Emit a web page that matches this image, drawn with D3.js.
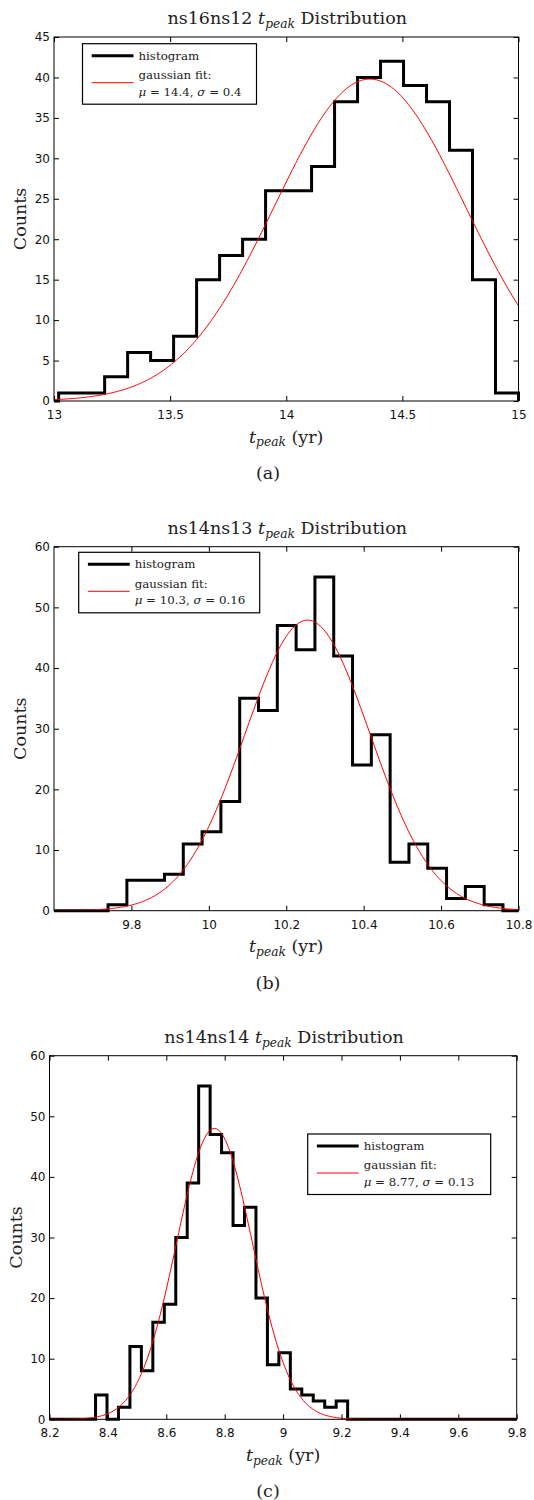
<!DOCTYPE html>
<html><head><meta charset="utf-8">
<script src="https://cdn.jsdelivr.net/npm/d3@7"></script>
<style>body{margin:0;background:#fff} svg{display:block}</style>
</head><body>
<svg id="chart" width="534" height="1500"></svg>
<script>
// ---------------- DATA ----------------
const runNames = ["ns16ns12", "ns14ns13", "ns14ns14"];
const captions = ["(a)", "(b)", "(c)"];
const countsA = [1,1,3,6,5,8,15,18,20,26,26,29,37,40,42,39,37,31,15,1];
const countsB = [1,5,5,6,11,13,18,35,33,47,43,55,42,24,29,8,11,7,2,4,1];
const countsC = [4,0,2,12,8,16,19,30,39,55,47,44,32,35,20,9,11,5,4,3,2,3];
const binStarts = [13.02, 9.7397, 8.3577];
const binWidths = [0.099, 0.04858, 0.03924];
const fitMu = [14.36, 10.255, 8.765];
const fitSigma = [0.41, 0.162, 0.13];
const fitAmp = [39.8, 47.9, 48.0];
const legendMu = ["14.4", "10.3", "8.77"];
const legendSigma = ["0.4", "0.16", "0.13"];
const xDomains = [[13, 15], [9.6, 10.8], [8.2, 9.8]];
const xTicksA = [13, 13.5, 14, 14.5, 15];
const xTicksB = [9.8, 10, 10.2, 10.4, 10.6, 10.8];
const xTicksC = [8.2, 8.4, 8.6, 8.8, 9, 9.2, 9.4, 9.6, 9.8];
const yTicksA = [0, 5, 10, 15, 20, 25, 30, 35, 40, 45];
const yTicksB = [0, 10, 20, 30, 40, 50, 60];
const yTicksC = [0, 10, 20, 30, 40, 50, 60];

// ---------------- LAYOUT ----------------
const countsAll = [countsA, countsB, countsC];
const xTicksAll = [xTicksA, xTicksB, xTicksC];
const yTicksAll = [yTicksA, yTicksB, yTicksC];
const plotL = [54, 54, 49.5], plotR = [518.5, 518.5, 516.7];
const plotT = [37, 546.7, 1055.7], plotB = [401, 910.7, 1419.3];
const legBox = [[82.5, 43.7, 174], [78.7, 552.3, 181], [307.7, 1134, 183]];

const serif = "'DejaVu Serif', 'Liberation Serif', serif";
const sans = "'DejaVu Sans', 'Liberation Sans', Arial, sans-serif";
const svg = d3.select("#chart");
const fmt = v => String(+v.toFixed(2));

function mathT(textSel, size) {
  textSel.append("tspan").attr("font-style", "italic").text("t");
  textSel.append("tspan").attr("font-style", "italic").attr("font-size", size * 0.7)
    .attr("dy", size * 0.22).text("peak");
  return textSel.append("tspan").attr("dy", -size * 0.22);
}

for (let i = 0; i < 3; i++) {
  const L = plotL[i], R = plotR[i], T = plotT[i], B = plotB[i];
  const yTicks = yTicksAll[i];
  const x = d3.scaleLinear().domain(xDomains[i]).range([L, R]);
  const y = d3.scaleLinear().domain([0, yTicks[yTicks.length - 1]]).range([B, T]);
  const g = svg.append("g");
  const counts = countsAll[i];

  // histogram stairs
  const e = k => binStarts[i] + k * binWidths[i];
  const pts = [[xDomains[i][0], 0], [e(0), 0]];
  counts.forEach((c, k) => { pts.push([e(k), c], [e(k + 1), c]); });
  pts.push([e(counts.length), 0], [xDomains[i][1], 0]);
  const line = d3.line().x(d => x(d[0])).y(d => y(d[1]));
  g.append("path").attr("d", line(pts)).attr("fill", "none")
    .attr("stroke", "#000").attr("stroke-width", 3).attr("stroke-linejoin", "miter");

  // gaussian fit
  const [x0, x1] = xDomains[i];
  const gpts = d3.range(301).map(j => {
    const xv = x0 + (x1 - x0) * j / 300;
    return [xv, fitAmp[i] * Math.exp(-0.5 * Math.pow((xv - fitMu[i]) / fitSigma[i], 2))];
  });
  g.append("path").attr("d", line(gpts)).attr("fill", "none")
    .attr("stroke", "#ff0000").attr("stroke-width", 1);

  // box
  g.append("rect").attr("x", L).attr("y", T).attr("width", R - L).attr("height", B - T)
    .attr("fill", "none").attr("stroke", "#000").attr("stroke-width", 1);

  // axes
  const ax = (gen, tx, ty, vals, labels, pad) => {
    const a = g.append("g").attr("transform", `translate(${tx},${ty})`)
      .call(gen.tickValues(vals).tickSizeInner(-5).tickSizeOuter(0).tickPadding(pad)
        .tickFormat(labels ? fmt : () => ""));
    a.select(".domain").remove();
    a.selectAll("line").attr("stroke", "#000");
    a.selectAll("text").attr("font-family", sans).attr("font-size", 12).attr("fill", "#111");
    return a;
  };
  ax(d3.axisBottom(x), 0, B, xTicksAll[i], true, 9.5);
  ax(d3.axisTop(x), 0, T, xTicksAll[i], false, 3);
  ax(d3.axisLeft(y), L, 0, yTicks, true, 4);
  ax(d3.axisRight(y), R, 0, yTicks, false, 3);

  // title
  const title = g.append("text").attr("x", (L + R) / 2 + 1).attr("y", T - 13)
    .attr("text-anchor", "middle").attr("font-family", serif).attr("font-size", 17.5).attr("fill", "#222");
  title.append("tspan").text(runNames[i] + " ");
  mathT(title, 17.5).text(" Distribution");

  // x label
  const xl = g.append("text").attr("x", (L + R) / 2).attr("y", B + 41.5)
    .attr("text-anchor", "middle").attr("font-family", serif).attr("font-size", 17.5).attr("fill", "#222");
  mathT(xl, 17.5).text(" (yr)");

  // y label
  g.append("text").attr("transform", `translate(${L - 28},${(T + B) / 2}) rotate(-90)`)
    .attr("text-anchor", "middle").attr("font-family", serif).attr("font-size", 17.5).attr("fill", "#222")
    .text("Counts");

  // caption
  g.append("text").attr("x", 268).attr("y", B + 78).attr("text-anchor", "middle")
    .attr("font-family", serif).attr("font-size", 17.5).attr("fill", "#222").text(captions[i]);

  // legend
  const [lx, ly, lw] = legBox[i];
  const lg = g.append("g");
  lg.append("rect").attr("x", lx).attr("y", ly).attr("width", lw).attr("height", 60.5)
    .attr("fill", "#fff").attr("stroke", "#000").attr("stroke-width", 1.2);
  lg.append("line").attr("x1", lx + 9.2).attr("x2", lx + 51).attr("y1", ly + 12).attr("y2", ly + 12)
    .attr("stroke", "#000").attr("stroke-width", 3);
  lg.append("line").attr("x1", lx + 9.2).attr("x2", lx + 51).attr("y1", ly + 39).attr("y2", ly + 39)
    .attr("stroke", "#ff0000").attr("stroke-width", 1);
  const lt = (yy) => lg.append("text").attr("x", lx + 56).attr("y", ly + yy)
    .attr("font-family", serif).attr("font-size", 11.8).attr("fill", "#222");
  lt(15.8).text("histogram");
  lt(35.2).text("gaussian fit:");
  const m = lt(52);
  m.append("tspan").attr("font-style", "italic").text("μ");
  m.append("tspan").text(" = " + legendMu[i] + ", ");
  m.append("tspan").attr("font-style", "italic").text("σ");
  m.append("tspan").text(" = " + legendSigma[i]);
}
</script>
</body></html>
